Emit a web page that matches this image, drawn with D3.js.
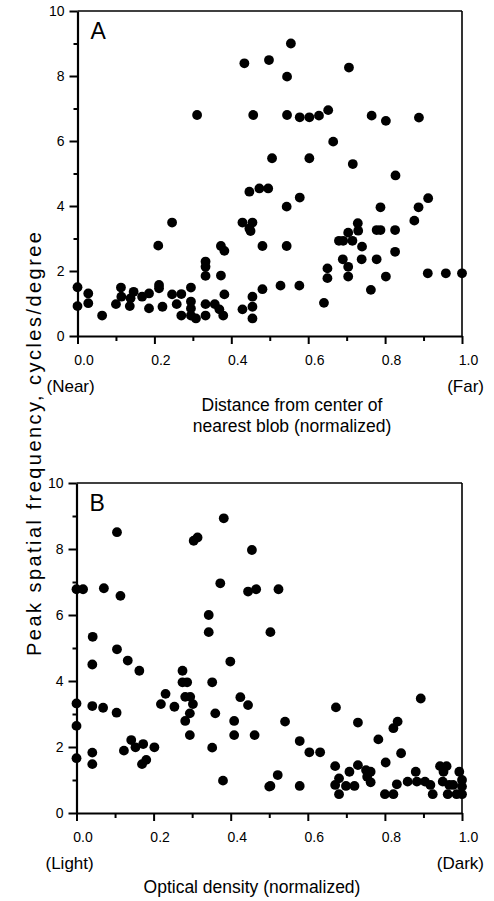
<!DOCTYPE html>
<html>
<head>
<meta charset="utf-8">
<script src="https://cdn.jsdelivr.net/npm/d3@7"></script>
<style>
  html, body { margin: 0; padding: 0; background: #fff; }
  svg { display: block; font-family: "Liberation Sans", Arial, Helvetica, sans-serif; }
</style>
</head>
<body>
<svg id="chart" width="494" height="901"></svg>
<script>
// ---------- DATA ----------
const xTicks = [0, 0.2, 0.4, 0.6, 0.8, 1.0];
const xMinorTicks = [0.1, 0.3, 0.5, 0.7, 0.9];
const yTicks = [0, 2, 4, 6, 8, 10];
const yMinorTicks = [1, 3, 5, 7, 9];

// Panel A: distance from center of nearest blob vs peak SF
const distA = [0.434,0.498,0.311,0.457,0.555,0.545,0.706,0.545,0.578,0.603,0.628,0.652,0.765,0.802,0.888,0.665,0.506,0.603,0.716,0.827,0.473,0.496,0.447,0.544,0.578,0.788,0.912,0.887,0.876,0.729,0.704,0.730,0.778,0.788,0.826,0.680,0.691,0.715,0.740,0.481,0.544,0.690,0.704,0.739,0.778,0.826,0.650,0.650,0.704,0.802,0.911,0.958,1.0,0.481,0.528,0.577,0.763,0.641,
  0.0,0.0,0.028,0.028,0.064,0.10,0.113,0.114,0.136,0.146,0.138,0.168,0.186,0.186,0.21,0.212,0.212,0.221,0.246,0.246,0.27,0.258,0.295,0.295,0.295,0.27,0.295,0.308,0.333,0.333,0.333,0.333,0.333,0.357,0.369,0.379,0.373,0.382,0.373,0.382,0.429,0.455,0.447,0.45,0.429,0.455,0.455,0.455];
const sfA = [8.39,8.49,6.80,6.80,9.0,7.98,8.26,6.80,6.73,6.73,6.78,6.95,6.78,6.62,6.72,5.98,5.47,5.47,5.29,4.94,4.54,4.54,4.44,3.98,4.26,3.96,4.24,3.96,3.55,3.47,3.18,3.24,3.26,3.26,3.26,2.93,2.93,2.93,2.75,2.77,2.77,2.36,2.13,2.36,2.36,2.59,2.08,1.78,1.83,1.83,1.93,1.93,1.93,1.44,1.55,1.55,1.42,1.02,
  1.50,0.92,1.31,1.01,0.63,0.98,1.49,1.21,0.92,1.36,1.16,1.21,1.31,0.85,2.78,1.57,1.47,0.90,3.49,1.28,1.29,0.98,1.49,1.06,0.85,0.63,0.63,0.54,0.63,2.29,2.13,1.85,0.98,0.98,0.82,0.63,2.77,2.62,1.86,1.28,3.49,3.49,3.31,3.23,0.82,1.21,0.90,0.54];

// Panel B: optical density vs peak SF
const odB = [0.105,0.304,0.314,0.382,0.455,0.0,0.017,0.071,0.114,0.373,0.445,0.466,0.343,0.343,0.042,0.503,0.524,
  0.105,0.133,0.163,0.041,0.399,0.275,0.275,0.287,0.352,0.231,0.219,0.254,0.282,0.295,0.302,0.294,0.282,0.294,0.360,0.425,0.445,0.409,0.409,0.462,0.352,0.380,0.50,
  0.0,0.0,0.0,0.041,0.069,0.104,0.041,0.041,0.123,0.142,0.153,0.173,0.202,0.170,0.181,
  0.893,0.673,0.541,0.730,0.833,0.822,0.579,0.783,0.604,0.632,0.842,0.802,0.503,0.522,0.579,0.671,0.681,0.671,0.681,0.699,0.721,0.708,0.730,0.751,0.763,0.754,0.763,0.800,0.822,0.831,0.859,0.880,0.883,0.904,0.924,0.918,0.943,0.960,0.952,0.95,0.967,0.977,0.963,0.986,1.0,0.993,1.0,1.0];
const sfB = [8.51,8.25,8.35,8.93,7.97,6.78,6.78,6.81,6.58,6.96,6.71,6.78,6.0,5.48,5.34,5.48,6.78,
  4.96,4.62,4.31,4.50,4.59,4.31,3.96,3.96,3.96,3.61,3.30,3.22,3.52,3.52,3.30,3.02,2.79,2.36,3.02,3.51,3.27,2.79,2.36,2.36,1.98,0.98,0.80,
  3.32,2.64,1.66,3.24,3.19,3.04,1.83,1.48,1.89,2.21,1.99,2.09,1.99,1.48,1.61,
  3.47,3.20,2.77,2.74,2.77,2.57,2.18,2.23,1.84,1.84,1.81,1.53,0.82,1.15,0.82,1.42,1.05,0.85,0.57,0.82,0.82,1.25,1.45,1.30,1.25,1.10,0.93,0.57,0.57,0.87,0.95,1.25,0.95,0.95,0.57,0.85,1.42,1.42,1.25,0.95,0.85,0.85,0.57,0.57,0.57,1.25,1.0,0.8];

const panels = [
  { label: "A", xs: distA, ys: sfA, left: 77.5, right: 462, top: 11, bottom: 336,
    leftNote: "(Near)", rightNote: "(Far)",
    title: ["Distance from center of", "nearest blob (normalized)"], titleX: 292 },
  { label: "B", xs: odB, ys: sfB, left: 76.5, right: 462, top: 483, bottom: 813,
    leftNote: "(Light)", rightNote: "(Dark)",
    title: ["Optical density (normalized)"], titleX: 252 }
];

const svg = d3.select("#chart");

panels.forEach(p => {
  const x = d3.scaleLinear().domain([0, 1]).range([p.left, p.right]);
  const y = d3.scaleLinear().domain([0, 10]).range([p.bottom, p.top]);
  const g = svg.append("g");

  // frame top / right
  g.append("line").attr("x1", p.left).attr("x2", p.right).attr("y1", p.top).attr("y2", p.top)
    .attr("stroke", "#000").attr("stroke-width", 1.6);
  g.append("line").attr("x1", p.right).attr("x2", p.right).attr("y1", p.top).attr("y2", p.bottom)
    .attr("stroke", "#000").attr("stroke-width", 1.6);

  // bottom axis
  const xAxis = g.append("g").attr("transform", `translate(0,${p.bottom})`)
    .call(d3.axisBottom(x).tickValues(xTicks).tickSize(8).tickSizeOuter(0).tickFormat(d3.format(".1f")));
  xAxis.select(".domain").attr("stroke-width", 2.2);
  xAxis.selectAll(".tick line").attr("stroke-width", 2);
  xAxis.selectAll(".tick text").attr("font-size", 14).attr("dy", 0).attr("y", 29).attr("dx", 6)
    .attr("font-family", "Liberation Sans, Arial, sans-serif");
  const xMinor = g.append("g").attr("transform", `translate(0,${p.bottom})`)
    .call(d3.axisBottom(x).tickValues(xMinorTicks).tickSize(5).tickSizeOuter(0).tickFormat(""));
  xMinor.select(".domain").remove();
  xMinor.selectAll(".tick line").attr("stroke-width", 2);

  // left axis
  const yAxis = g.append("g").attr("transform", `translate(${p.left},0)`)
    .call(d3.axisLeft(y).tickValues(yTicks).tickSize(8).tickSizeOuter(0).tickFormat(d3.format("d")));
  yAxis.select(".domain").attr("stroke-width", 2.2);
  yAxis.selectAll(".tick line").attr("stroke-width", 2);
  yAxis.selectAll(".tick text").attr("font-size", 14).attr("x", -13)
    .attr("font-family", "Liberation Sans, Arial, sans-serif");
  const yMinor = g.append("g").attr("transform", `translate(${p.left},0)`)
    .call(d3.axisLeft(y).tickValues(yMinorTicks).tickSize(4).tickSizeOuter(0).tickFormat(""));
  yMinor.select(".domain").remove();
  yMinor.selectAll(".tick line").attr("stroke-width", 2);

  // points
  g.append("g").selectAll("circle")
    .data(p.xs.map((v, i) => [v, p.ys[i]]))
    .join("circle")
    .attr("cx", d => x(d[0]))
    .attr("cy", d => y(d[1]))
    .attr("r", 4.9)
    .attr("fill", "#000");

  // panel label
  g.append("text").attr("x", p.left + 13).attr("y", p.top + 28)
    .attr("font-size", 23).text(p.label);

  // end notes
  g.append("text").attr("x", p.left - 31).attr("y", p.bottom + 56)
    .attr("font-size", 17).text(p.leftNote);
  g.append("text").attr("x", p.right + 22).attr("y", p.bottom + 56)
    .attr("font-size", 17).attr("text-anchor", "end").text(p.rightNote);

  // axis title
  p.title.forEach((t, i) => {
    g.append("text").attr("x", p.titleX).attr("y", p.bottom + (p.title.length === 2 ? 75 : 80) + i * 21)
      .attr("font-size", 17.5).attr("text-anchor", "middle").text(t);
  });
});

// shared y title
svg.append("text")
  .attr("transform", "translate(41,444) rotate(-90)")
  .attr("text-anchor", "middle")
  .attr("font-size", 20)
  .attr("textLength", 424)
  .attr("lengthAdjust", "spacing")
  .text("Peak spatial frequency,  cycles/degree");
</script>
</body>
</html>
